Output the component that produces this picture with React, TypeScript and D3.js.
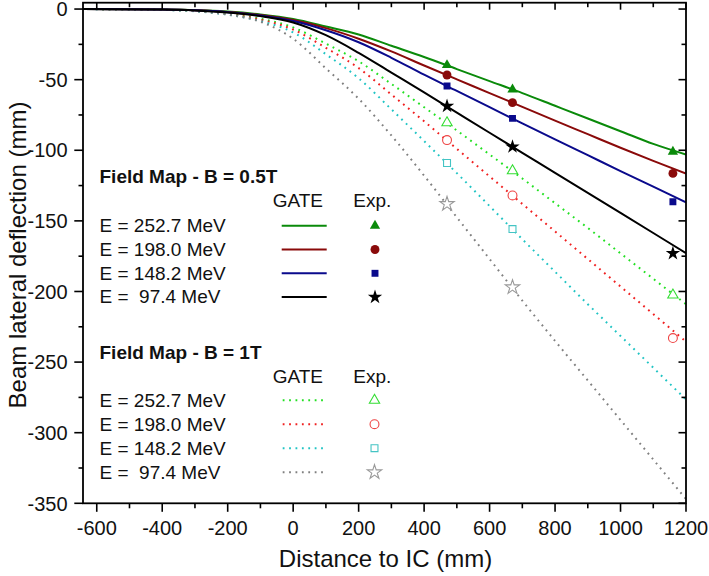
import React from "react";
import * as d3 from "d3";

// ---------- data ----------
const gateX = [-642, -400, -300, -200, -100, 0, 100, 200, 300, 400, 500, 600, 700, 800, 900, 1000, 1100, 1200];

const gate05_252 = [0, -0.3, -0.7, -1.8, -3.8, -7, -12.3, -18, -26, -34, -42.5, -51, -59.5, -68.5, -77.5, -86.5, -95.5, -103];
const gate05_198 = [0, -0.3, -0.8, -2, -4.2, -7.8, -13.5, -21, -30, -40, -49.8, -59.5, -69.3, -79, -88.6, -98.2, -107.5, -116.5];
const gate05_148 = [0, -0.3, -0.9, -2.2, -4.6, -8.5, -15, -23.5, -34.5, -46.5, -58, -69.5, -81, -92.3, -103.5, -114.7, -125.8, -136.8];
const gate05_97 = [0, -0.4, -1, -2.5, -5, -9.5, -18.5, -31, -45, -59, -73.3, -87.6, -101.8, -116, -130.2, -144.4, -158.6, -172.8];

const gate1_252 = [0, -0.5, -1.3, -3.2, -6.8, -13, -24.5, -37, -53, -69.5, -86, -103, -120, -137.5, -155, -173, -191, -209];
const gate1_198 = [0, -0.5, -1.4, -3.5, -7.5, -14.5, -27.5, -41.8, -60.5, -79.5, -99, -118.5, -138, -157.5, -177, -196.5, -216, -235.5];
const gate1_148 = [0, -0.6, -1.6, -4, -8.5, -16.5, -32, -49, -71, -93.5, -116.2, -139.5, -163, -186, -209, -231.5, -254, -276.5];
const gate1_97 = [0, -0.6, -1.5, -4, -9, -21, -42, -63.5, -89.5, -118, -147.5, -177, -206.5, -235, -263, -291, -319, -347];

const expX = [470, 670, 1160];
const exp05_252 = [-39.7, -57, -101];
const exp05_198 = [-46.7, -66.3, -116.4];
const exp05_148 = [-54.5, -77.4, -136.4];
const exp05_97 = [-68.7, -97.5, -173];
const exp1_252 = [-80.5, -114.5, -202.5];
const exp1_198 = [-92.8, -132, -233];
const exp1_148 = [-109, -155.8];
const exp1_97 = [-138, -197];

const energyLabels = ["E = 252.7 MeV", "E = 198.0 MeV", "E = 148.2 MeV", "E =  97.4 MeV"];
const groupTitles = ["Field Map - B = 0.5T", "Field Map - B = 1T"];

const xMajorTicks = [-600, -400, -200, 0, 200, 400, 600, 800, 1000, 1200];
const xMajorLabels = ["-600", "-400", "-200", "0", "200", "400", "600", "800", "1000", "1200"];
const xMinorTicks = [-500, -300, -100, 100, 300, 500, 700, 900, 1100];
const yMajorTicks = [0, -50, -100, -150, -200, -250, -300, -350];
const yMajorLabels = ["0", "-50", "-100", "-150", "-200", "-250", "-300", "-350"];
const yMinorTicks = [-25, -75, -125, -175, -225, -275, -325];

// ---------- styles ----------
const solidColors = ["#0a8a0a", "#8a0a0a", "#0a0a8c", "#000000"];
const dotColors = ["#22e022", "#f02020", "#20c4c4", "#808080"];
const markerColorsOpen = ["#33dd33", "#ee4444", "#44c4c4", "#999999"];
const symbols = [d3.symbolTriangle, d3.symbolCircle, d3.symbolSquare, d3.symbolStar];
const symSizes = [46, 62, 48, 64];

const FONT = "'Liberation Sans', Arial, sans-serif";

export default function App() {
  const W = 709, H = 576;
  const L = 83, R = 686, T = 2.7, B = 503.3;
  const x = d3.scaleLinear().domain([-642, 1200]).range([L, R]);
  const y = d3.scaleLinear().domain([-350, 4.5]).range([B, T]);

  const line = d3
    .line<[number, number]>()
    .x((d) => x(d[0]))
    .y((d) => y(d[1]))
    .curve(d3.curveMonotoneX);

  const gate05 = [gate05_252, gate05_198, gate05_148, gate05_97];
  const gate1 = [gate1_252, gate1_198, gate1_148, gate1_97];
  const exp05 = [exp05_252, exp05_198, exp05_148, exp05_97];
  const exp1 = [exp1_252, exp1_198, exp1_148, exp1_97];

  const sym = (i: number) => d3.symbol().type(symbols[i]).size(symSizes[i])() as string;

  const dash = "1.8 4.6";

  const legendRowsY05 = [225.7, 249.5, 273.3, 297.1];
  const legendRowsY1 = [400.2, 424.2, 448.2, 472.2];

  return (
    <svg width={W} height={H} style={{ position: "absolute", left: 0, top: 0, background: "#fff" }} fontFamily={FONT}>
      <defs>
        <clipPath id="plotclip">
          <rect x={L} y={T} width={R - L} height={B - T} />
        </clipPath>
      </defs>
      <rect x={0} y={0} width={W} height={H} fill="#fff" />

      {/* curves */}
      <g clipPath="url(#plotclip)">
        {gate1.map((s, i) => (
          <path
            key={"g1" + i}
            d={line(gateX.map((v, k) => [v, s[k]] as [number, number])) as string}
            fill="none"
            stroke={dotColors[i]}
            strokeWidth={2}
            strokeDasharray={dash}
          />
        ))}
        {gate05.map((s, i) => (
          <path
            key={"g05" + i}
            d={line(gateX.map((v, k) => [v, s[k]] as [number, number])) as string}
            fill="none"
            stroke={solidColors[i]}
            strokeWidth={2}
          />
        ))}
        {exp05.map((s, i) =>
          s.map((v, k) => (
            <path
              key={"e05" + i + "_" + k}
              d={sym(i)}
              transform={`translate(${x(expX[k])},${y(v)})`}
              fill={solidColors[i]}
            />
          ))
        )}
        {exp1.map((s, i) =>
          s.map((v, k) => (
            <path
              key={"e1" + i + "_" + k}
              d={sym(i)}
              transform={`translate(${x(expX[k])},${y(v)})`}
              fill="#fff"
              stroke={markerColorsOpen[i]}
              strokeWidth={1.1}
            />
          ))
        )}
      </g>

      {/* frame */}
      <rect x={L} y={T} width={R - L} height={B - T} fill="none" stroke="#000" strokeWidth={1.8} />

      {/* bottom ticks */}
      {xMajorTicks.map((t, i) => (
        <g key={"xb" + t}>
          <line x1={x(t)} x2={x(t)} y1={B} y2={B + 8.5} stroke="#000" strokeWidth={1.6} />
          <line x1={x(t)} x2={x(t)} y1={T} y2={T + 7} stroke="#000" strokeWidth={1.6} />
          <text x={x(t)} y={535} fontSize={20} textAnchor="middle" fill="#111">
            {xMajorLabels[i]}
          </text>
        </g>
      ))}
      {xMinorTicks.map((t) => (
        <g key={"xm" + t}>
          <line x1={x(t)} x2={x(t)} y1={B} y2={B + 5} stroke="#000" strokeWidth={1.6} />
          <line x1={x(t)} x2={x(t)} y1={T} y2={T + 4.5} stroke="#000" strokeWidth={1.6} />
        </g>
      ))}

      {/* left / right ticks */}
      {yMajorTicks.map((t, i) => (
        <g key={"yl" + t}>
          <line x1={L - 8.7} x2={L} y1={y(t)} y2={y(t)} stroke="#000" strokeWidth={1.6} />
          <line x1={R - 7.5} x2={R} y1={y(t)} y2={y(t)} stroke="#000" strokeWidth={1.6} />
          <text x={67.5} y={y(t)} dy="0.36em" fontSize={20} textAnchor="end" fill="#111">
            {yMajorLabels[i]}
          </text>
        </g>
      ))}
      {yMinorTicks.map((t) => (
        <g key={"ym" + t}>
          <line x1={L - 4.5} x2={L} y1={y(t)} y2={y(t)} stroke="#000" strokeWidth={1.6} />
          <line x1={R - 4.5} x2={R} y1={y(t)} y2={y(t)} stroke="#000" strokeWidth={1.6} />
        </g>
      ))}

      {/* axis titles */}
      <text x={(L + R) / 2 + 1} y={567} fontSize={24} textAnchor="middle" fill="#111">
        Distance to IC (mm)
      </text>
      <text
        transform={`translate(26,${255}) rotate(-90)`}
        fontSize={24}
        textAnchor="middle"
        fill="#111"
      >
        Beam lateral deflection (mm)
      </text>

      {/* legend 0.5T */}
      <text x={99.5} y={183.3} fontSize={19} fontWeight="bold" fill="#111">
        {groupTitles[0]}
      </text>
      <text x={272.7} y={207.3} fontSize={19} fill="#111">GATE</text>
      <text x={353.3} y={207.3} fontSize={19} fill="#111">Exp.</text>
      {energyLabels.map((lab, i) => (
        <g key={"l05" + i}>
          <text x={99.5} y={legendRowsY05[i] + 6.3} fontSize={19} fill="#111" style={{ whiteSpace: "pre" }}>
            {lab}
          </text>
          <line x1={281.7} x2={326.7} y1={legendRowsY05[i]} y2={legendRowsY05[i]} stroke={solidColors[i]} strokeWidth={2} />
          <path d={sym(i)} transform={`translate(375,${legendRowsY05[i]})`} fill={solidColors[i]} />
        </g>
      ))}

      {/* legend 1T */}
      <text x={99.5} y={359.3} fontSize={19} fontWeight="bold" fill="#111">
        {groupTitles[1]}
      </text>
      <text x={272.7} y={383.3} fontSize={19} fill="#111">GATE</text>
      <text x={353.3} y={383.3} fontSize={19} fill="#111">Exp.</text>
      {energyLabels.map((lab, i) => (
        <g key={"l1" + i}>
          <text x={99.5} y={legendRowsY1[i] + 6.3} fontSize={19} fill="#111" style={{ whiteSpace: "pre" }}>
            {lab}
          </text>
          <line x1={282.7} x2={324} y1={legendRowsY1[i]} y2={legendRowsY1[i]} stroke={dotColors[i]} strokeWidth={2} strokeDasharray={dash} />
          <path
            d={sym(i)}
            transform={`translate(374.5,${legendRowsY1[i]})`}
            fill="#fff"
            stroke={markerColorsOpen[i]}
            strokeWidth={1.1}
          />
        </g>
      ))}
    </svg>
  );
}
